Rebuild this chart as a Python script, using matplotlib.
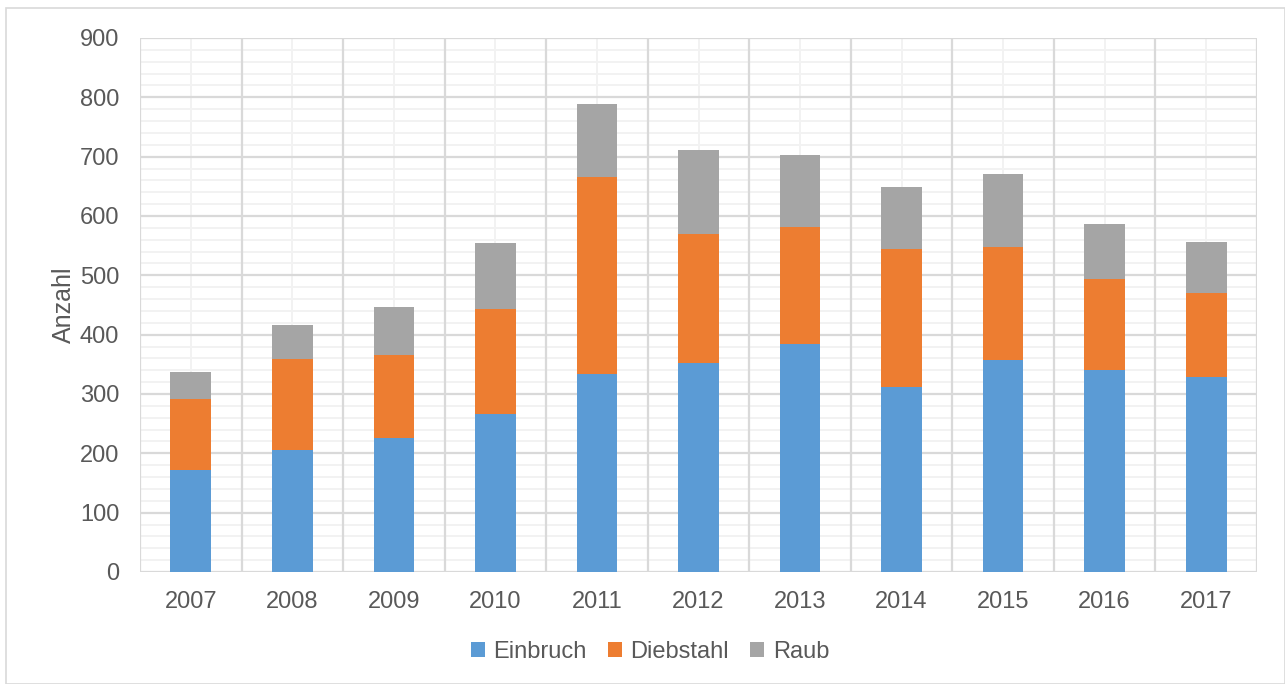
import matplotlib
matplotlib.use("Agg")
import matplotlib.pyplot as plt
import numpy as np
from matplotlib.patches import Rectangle

years = ["2007", "2008", "2009", "2010", "2011", "2012", "2013", "2014", "2015", "2016", "2017"]
einbruch = [172, 206, 226, 266, 333, 353, 384, 312, 357, 341, 329]
diebstahl = [120, 153, 139, 178, 333, 217, 197, 232, 190, 152, 141]
raub = [45, 57, 81, 111, 123, 141, 122, 105, 123, 93, 86]

plt.rcParams['font.family'] = ['Liberation Sans', 'DejaVu Sans']
txt = '#595959'
c_blue, c_orange, c_gray = '#5b9bd5', '#ed7d31', '#a5a5a5'

fig = plt.figure(figsize=(12.85, 6.84), dpi=100)
fig.patches.append(Rectangle((6/1285, 0), 1 - 6/1285, 1 - 8/684, transform=fig.transFigure,
                             fill=False, edgecolor='#d9d9d9', linewidth=1.2))
ax = fig.add_axes([140/1285, 1 - 572/684, (1257 - 140)/1285, (572 - 38)/684])

n = len(years)
x = np.arange(n)
ax.set_xlim(-0.5, n - 0.5)
ax.set_ylim(0, 900)

# gridlines
for v in range(0, 901, 20):
    if v % 100:
        ax.axhline(v, color='#f2f2f2', lw=1.4, zorder=0)
for v in range(0, 901, 100):
    ax.axhline(v, color='#d9d9d9', lw=1.6, zorder=0.5)
for xi in x:
    ax.axvline(xi, color='#f2f2f2', lw=1.4, zorder=0)
for b in np.arange(-0.5, n, 1.0):
    ax.axvline(b, color='#d9d9d9', lw=1.6, zorder=0.5)

w = 0.4
e = np.array(einbruch); d = np.array(diebstahl); r = np.array(raub)
ax.bar(x, e, w, color=c_blue, label='Einbruch', zorder=2)
ax.bar(x, d, w, bottom=e, color=c_orange, label='Diebstahl', zorder=2)
ax.bar(x, r, w, bottom=e + d, color=c_gray, label='Raub', zorder=2)

for s in ax.spines.values():
    s.set_visible(False)
ax.set_xticks(x)
ax.set_xticklabels(years)
ax.set_yticks(range(0, 901, 100))
ax.tick_params(axis='both', length=0, labelsize=17, colors=txt)
ax.tick_params(axis='x', pad=14)
ax.tick_params(axis='y', pad=15)
ax.set_ylabel('Anzahl', fontsize=18, color=txt, labelpad=3)

leg = fig.legend(loc='center', bbox_to_anchor=(650/1285, 1 - 652/684), ncol=3, frameon=False,
                 fontsize=17, handlelength=0.6, handleheight=0.6, handletextpad=0.35,
                 columnspacing=0.9)
for t in leg.get_texts():
    t.set_color(txt)

fig.savefig('out.png', dpi=100)
